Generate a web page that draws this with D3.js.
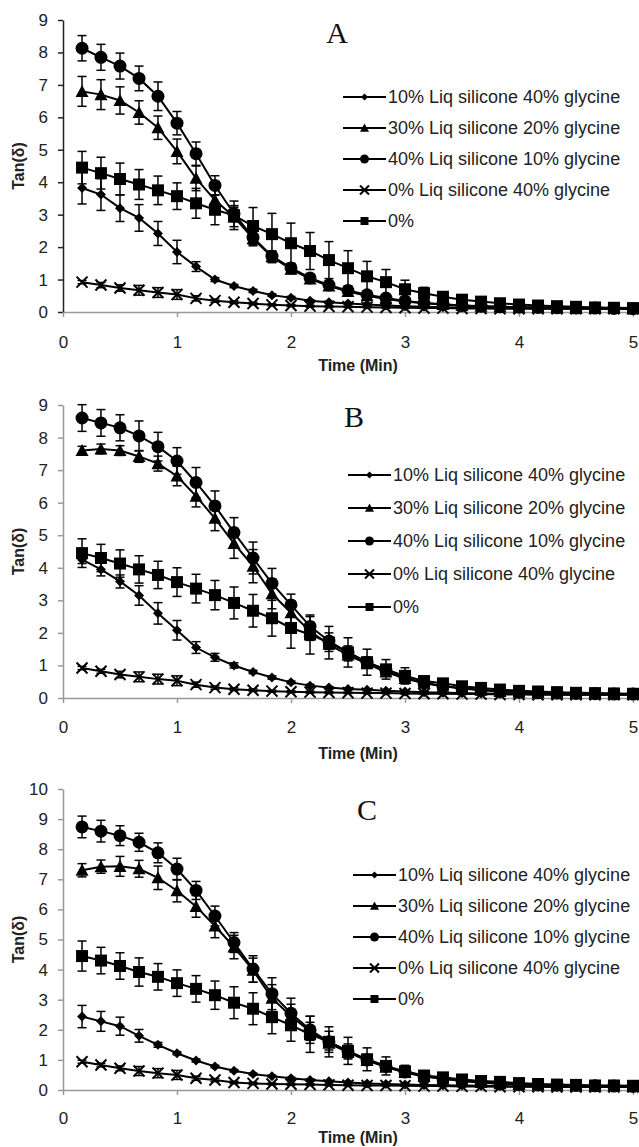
<!DOCTYPE html>
<html><head><meta charset="utf-8">
<script src="https://cdn.jsdelivr.net/npm/d3@7"></script>
<style>body{margin:0;background:#fff}svg{display:block}</style>
</head><body>
<script>
const times = [0.167,0.333,0.5,0.667,0.833,1,1.167,1.333,1.5,1.667,1.833,2,2.167,2.333,2.5,2.667,2.833,3,3.167,3.333,3.5,3.667,3.833,4,4.167,4.333,4.5,4.667,4.833,5];
const seriesNames = ["10% Liq silicone 40% glycine","30% Liq silicone 20% glycine","40% Liq silicone 10% glycine","0% Liq silicone 40% glycine","0%"];
const seriesShapes = ["diamond","triangle","circle","x","square"];
const panelLetters = ["A","B","C"];
const panelYMax = [9,9,10];
const xTicks = [0,1,2,3,4,5];

// Panel A
const A_dia  = [3.82,3.62,3.2,2.9,2.42,1.85,1.4,1.0,0.8,0.65,0.52,0.44,0.35,0.3,0.26,0.23,0.2,0.18,0.16,0.15,0.14,0.13,0.12,0.12,0.11,0.11,0.1,0.1,0.1,0.1];
const A_tri  = [6.8,6.7,6.52,6.15,5.68,4.95,4.12,3.45,2.93,2.26,1.7,1.32,1.02,0.8,0.63,0.5,0.4,0.32,0.27,0.23,0.2,0.18,0.16,0.15,0.14,0.13,0.12,0.11,0.11,0.1];
const A_circ = [8.13,7.85,7.58,7.2,6.65,5.82,4.88,3.9,3.03,2.3,1.72,1.36,1.05,0.83,0.66,0.53,0.43,0.34,0.28,0.24,0.2,0.18,0.16,0.15,0.14,0.13,0.12,0.12,0.11,0.1];
const A_x    = [0.92,0.83,0.74,0.67,0.6,0.54,0.42,0.35,0.3,0.26,0.22,0.2,0.18,0.17,0.16,0.15,0.14,0.13,0.12,0.12,0.11,0.11,0.1,0.1,0.1,0.1,0.1,0.1,0.1,0.1];
const A_sq   = [4.45,4.28,4.1,3.93,3.75,3.57,3.35,3.15,2.98,2.65,2.4,2.12,1.88,1.6,1.35,1.1,0.92,0.7,0.58,0.47,0.38,0.32,0.27,0.23,0.2,0.18,0.16,0.14,0.13,0.12];
const A_dia_err  = [0.49,0.49,0.41,0.41,0.37,0.36,0.15,0.06,0.05,0.05,0.04,0.04,0.03,0.03,0.03,0.03,0.02,0.02,0.02,0.02,0.02,0.02,0.02,0.02,0.02,0.02,0.02,0.02,0.02,0.02];
const A_tri_err  = [0.46,0.46,0.42,0.36,0.36,0.38,0.38,0.35,0.3,0.22,0.18,0.14,0.1,0.08,0.07,0.06,0.05,0.04,0.04,0.03,0.03,0.03,0.03,0.02,0.02,0.02,0.02,0.02,0.02,0.02];
const A_circ_err = [0.39,0.4,0.4,0.38,0.44,0.36,0.36,0.3,0.25,0.2,0.15,0.12,0.1,0.08,0.07,0.06,0.05,0.04,0.04,0.03,0.03,0.03,0.03,0.02,0.02,0.02,0.02,0.02,0.02,0.02];
const A_x_err    = [0.05,0.08,0.1,0.15,0.15,0.15,0.08,0.05,0.04,0.04,0.03,0.03,0.03,0.03,0.02,0.02,0.02,0.02,0.02,0.02,0.02,0.02,0.02,0.02,0.02,0.02,0.02,0.02,0.02,0.02];
const A_sq_err   = [0.5,0.49,0.49,0.46,0.44,0.41,0.46,0.46,0.44,0.57,0.64,0.62,0.57,0.57,0.54,0.46,0.39,0.28,0.18,0.1,0.06,0.05,0.05,0.04,0.04,0.03,0.03,0.03,0.03,0.03];

// Panel B
const B_dia  = [4.25,3.95,3.58,3.15,2.6,2.08,1.55,1.25,1.0,0.8,0.63,0.48,0.38,0.32,0.28,0.25,0.22,0.2,0.18,0.16,0.15,0.14,0.13,0.12,0.12,0.11,0.1,0.1,0.1,0.1];
const B_tri  = [7.6,7.65,7.6,7.42,7.2,6.82,6.2,5.52,4.75,4.05,3.2,2.62,2.05,1.65,1.32,1.05,0.8,0.6,0.45,0.36,0.29,0.24,0.2,0.18,0.16,0.15,0.14,0.13,0.12,0.12];
const B_circ = [8.6,8.45,8.3,8.05,7.72,7.28,6.62,5.9,5.08,4.3,3.52,2.86,2.2,1.75,1.4,1.1,0.85,0.62,0.47,0.37,0.3,0.25,0.21,0.18,0.16,0.15,0.14,0.13,0.12,0.12];
const B_x    = [0.92,0.82,0.72,0.65,0.58,0.53,0.41,0.32,0.27,0.24,0.21,0.19,0.18,0.17,0.16,0.15,0.15,0.14,0.13,0.13,0.12,0.12,0.11,0.11,0.1,0.1,0.1,0.1,0.1,0.1];
const B_sq   = [4.45,4.3,4.13,3.95,3.78,3.56,3.36,3.16,2.92,2.68,2.45,2.15,1.95,1.7,1.4,1.1,0.88,0.68,0.52,0.45,0.36,0.31,0.26,0.22,0.2,0.18,0.16,0.15,0.14,0.13];
const B_dia_err  = [0.12,0.2,0.2,0.3,0.33,0.3,0.18,0.12,0.08,0.05,0.05,0.04,0.04,0.03,0.03,0.03,0.02,0.02,0.02,0.02,0.02,0.02,0.02,0.02,0.02,0.02,0.02,0.02,0.02,0.02];
const B_tri_err  = [0.13,0.15,0.15,0.18,0.23,0.3,0.33,0.38,0.46,0.51,0.46,0.35,0.28,0.22,0.18,0.14,0.1,0.08,0.06,0.05,0.04,0.04,0.03,0.03,0.03,0.02,0.02,0.02,0.02,0.02];
const B_circ_err = [0.41,0.41,0.4,0.46,0.44,0.41,0.46,0.46,0.46,0.49,0.46,0.33,0.3,0.25,0.2,0.15,0.1,0.08,0.06,0.05,0.04,0.04,0.03,0.03,0.03,0.02,0.02,0.02,0.02,0.02];
const B_x_err    = [0.05,0.06,0.1,0.15,0.15,0.15,0.08,0.05,0.04,0.04,0.03,0.03,0.03,0.03,0.02,0.02,0.02,0.02,0.02,0.02,0.02,0.02,0.02,0.02,0.02,0.02,0.02,0.02,0.02,0.02];
const B_sq_err   = [0.44,0.42,0.42,0.42,0.42,0.44,0.44,0.45,0.49,0.5,0.55,0.62,0.6,0.5,0.45,0.4,0.3,0.25,0.15,0.1,0.06,0.05,0.05,0.04,0.04,0.03,0.03,0.03,0.03,0.03];

// Panel C
const C_dia  = [2.44,2.28,2.12,1.8,1.5,1.22,0.98,0.78,0.64,0.53,0.46,0.39,0.33,0.29,0.25,0.22,0.2,0.18,0.17,0.16,0.15,0.14,0.13,0.12,0.12,0.11,0.11,0.1,0.1,0.1];
const C_tri  = [7.3,7.42,7.43,7.35,7.05,6.62,6.1,5.45,4.75,3.98,3.05,2.45,1.95,1.55,1.25,0.98,0.76,0.58,0.45,0.37,0.3,0.25,0.21,0.18,0.16,0.15,0.14,0.13,0.12,0.12];
const C_circ = [8.74,8.6,8.45,8.23,7.88,7.34,6.63,5.78,4.9,4.02,3.2,2.55,2.0,1.6,1.28,1.0,0.78,0.6,0.46,0.38,0.31,0.26,0.22,0.19,0.17,0.16,0.15,0.14,0.13,0.12];
const C_x    = [0.94,0.83,0.72,0.63,0.56,0.5,0.39,0.33,0.25,0.22,0.2,0.19,0.18,0.17,0.16,0.15,0.15,0.14,0.13,0.13,0.12,0.12,0.11,0.11,0.11,0.1,0.1,0.1,0.1,0.1];
const C_sq   = [4.45,4.3,4.12,3.92,3.76,3.55,3.36,3.15,2.9,2.7,2.42,2.15,1.85,1.6,1.3,1.02,0.8,0.62,0.48,0.42,0.35,0.3,0.27,0.23,0.2,0.18,0.17,0.15,0.15,0.14];
const C_dia_err  = [0.37,0.33,0.3,0.21,0.08,0.05,0.05,0.04,0.04,0.03,0.03,0.03,0.03,0.02,0.02,0.02,0.02,0.02,0.02,0.02,0.02,0.02,0.02,0.02,0.02,0.02,0.02,0.02,0.02,0.02];
const C_tri_err  = [0.22,0.22,0.33,0.28,0.39,0.37,0.36,0.39,0.39,0.4,0.45,0.4,0.3,0.22,0.18,0.14,0.1,0.08,0.06,0.05,0.04,0.04,0.03,0.03,0.03,0.02,0.02,0.02,0.02,0.02];
const C_circ_err = [0.36,0.36,0.33,0.3,0.33,0.36,0.3,0.33,0.33,0.44,0.53,0.5,0.45,0.35,0.25,0.18,0.12,0.08,0.06,0.05,0.04,0.04,0.03,0.03,0.03,0.02,0.02,0.02,0.02,0.02];
const C_x_err    = [0.05,0.06,0.08,0.15,0.15,0.15,0.07,0.05,0.04,0.04,0.03,0.03,0.03,0.03,0.02,0.02,0.02,0.02,0.02,0.02,0.02,0.02,0.02,0.02,0.02,0.02,0.02,0.02,0.02,0.02];
const C_sq_err   = [0.5,0.44,0.44,0.47,0.44,0.44,0.44,0.47,0.53,0.53,0.55,0.53,0.6,0.5,0.45,0.38,0.3,0.2,0.15,0.1,0.06,0.05,0.05,0.04,0.04,0.03,0.03,0.03,0.03,0.03];

const panelValues = [
  [A_dia,A_tri,A_circ,A_x,A_sq],
  [B_dia,B_tri,B_circ,B_x,B_sq],
  [C_dia,C_tri,C_circ,C_x,C_sq]];
const panelErrors = [
  [A_dia_err,A_tri_err,A_circ_err,A_x_err,A_sq_err],
  [B_dia_err,B_tri_err,B_circ_err,B_x_err,B_sq_err],
  [C_dia_err,C_tri_err,C_circ_err,C_x_err,C_sq_err]];

// layout (pixels)
const W = 639, H = 1147;
const layout = [
  {top:20,  bottom:312,  axisColor:"#222", titleX:337, titleY:43,  legX:343, legY:97,  legStep:31, tickPad:19, timeY:365},
  {top:405, bottom:698,  axisColor:"#999", titleX:354, titleY:427, legX:348, legY:475, legStep:33, tickPad:18, timeY:753},
  {top:789, bottom:1090, axisColor:"#999", titleX:367, titleY:820, legX:353, legY:875, legStep:31, tickPad:17, timeY:1137}
];
const xLeft = 63, xRight = 633;

const svg = d3.select("body").append("svg").attr("width",W).attr("height",H)
  .style("font-family","'Liberation Sans', Arial, sans-serif");

function markerPath(shape, s){
  const h = s/2;
  switch(shape){
    case "diamond": return `M0,${-h}L${h},0L0,${h}L${-h},0Z`;
    case "triangle": return `M0,${-h}L${h},${h*0.85}L${-h},${h*0.85}Z`;
    case "square": return `M${-h},${-h}H${h}V${h}H${-h}Z`;
    case "circle": return d3.symbol(d3.symbolCircle, Math.PI*h*h)();
    case "x": return `M${-h},${-h}L${h},${h}M${-h},${h}L${h},${-h}`;
  }
}
const plotSize = {diamond:10, triangle:13, circle:13, x:11, square:12};
const legSize  = {diamond:7, triangle:9, circle:9, x:9, square:8};

function drawMarker(g, shape, s){
  const p = g.append("path").attr("d", markerPath(shape, s));
  if(shape==="x") p.attr("fill","none").attr("stroke","#000").attr("stroke-width",2);
  else p.attr("fill","#000").attr("stroke","none");
}

panelLetters.forEach((letter, pi) => {
  const L = layout[pi];
  const x = d3.scaleLinear().domain([0,5]).range([xLeft,xRight]);
  const y = d3.scaleLinear().domain([0,panelYMax[pi]]).range([L.bottom,L.top]);
  const g = svg.append("g");

  // Y axis
  const ya = g.append("g").attr("transform",`translate(${xLeft},0)`)
    .call(d3.axisLeft(y).ticks(panelYMax[pi]).tickFormat(d3.format("d")).tickSize(5).tickPadding(10).tickSizeOuter(0));
  ya.select(".domain").attr("stroke",L.axisColor).attr("stroke-width",1.5);
  ya.selectAll(".tick line").attr("stroke",L.axisColor).attr("stroke-width",1.5);
  ya.selectAll("text").attr("font-size",17).attr("fill","#222").style("font-family","'Liberation Sans', Arial, sans-serif");

  // X axis
  const xa = g.append("g").attr("transform",`translate(0,${L.bottom})`)
    .call(d3.axisBottom(x).tickValues(xTicks).tickFormat(d3.format("d")).tickSize(5).tickPadding(L.tickPad).tickSizeOuter(0));
  xa.select(".domain").attr("stroke","#999").attr("stroke-width",1.5);
  xa.selectAll(".tick line").attr("stroke","#999").attr("stroke-width",1.5);
  xa.selectAll("text").attr("font-size",17).attr("fill","#222").style("font-family","'Liberation Sans', Arial, sans-serif");

  // axis titles
  g.append("text").attr("x",358).attr("y",L.timeY).attr("dy","0.35em")
    .attr("text-anchor","middle").attr("font-size",16).attr("font-weight","bold").attr("fill","#222")
    .text("Time (Min)");
  g.append("text").attr("transform",`translate(18,${(L.top+L.bottom)/2}) rotate(-90)`)
    .attr("dy","0.35em").attr("text-anchor","middle").attr("font-size",16).attr("font-weight","bold").attr("fill","#222")
    .text("Tan(\u03b4)");

  // panel letter
  g.append("text").attr("x",L.titleX).attr("y",L.titleY).attr("text-anchor","middle")
    .attr("font-family","'Liberation Serif','Times New Roman',serif").attr("font-size",30).attr("fill","#111")
    .text(letter);

  // series
  seriesNames.forEach((name, si) => {
    const vals = panelValues[pi][si], errs = panelErrors[pi][si];
    const pts = times.map((t,i)=>({t, v:vals[i], e:errs[i]}));
    const sg = g.append("g");
    sg.append("path").datum(pts)
      .attr("d", d3.line().x(d=>x(d.t)).y(d=>y(d.v)))
      .attr("fill","none").attr("stroke","#000").attr("stroke-width",2);
    const eb = sg.selectAll(".eb").data(pts).join("g").attr("class","eb");
    eb.append("line").attr("x1",d=>x(d.t)).attr("x2",d=>x(d.t))
      .attr("y1",d=>y(d.v-d.e)).attr("y2",d=>y(d.v+d.e)).attr("stroke","#000").attr("stroke-width",1.5);
    eb.append("line").attr("x1",d=>x(d.t)-4.5).attr("x2",d=>x(d.t)+4.5)
      .attr("y1",d=>y(d.v+d.e)).attr("y2",d=>y(d.v+d.e)).attr("stroke","#000").attr("stroke-width",1.5);
    eb.append("line").attr("x1",d=>x(d.t)-4.5).attr("x2",d=>x(d.t)+4.5)
      .attr("y1",d=>y(d.v-d.e)).attr("y2",d=>y(d.v-d.e)).attr("stroke","#000").attr("stroke-width",1.5);
    pts.forEach(d => {
      const mg = sg.append("g").attr("transform",`translate(${x(d.t)},${y(d.v)})`);
      drawMarker(mg, seriesShapes[si], plotSize[seriesShapes[si]]);
    });

    // legend
    const ly = L.legY + si*L.legStep;
    const lg = g.append("g");
    lg.append("line").attr("x1",L.legX).attr("x2",L.legX+43).attr("y1",ly).attr("y2",ly)
      .attr("stroke","#000").attr("stroke-width",2);
    const lm = lg.append("g").attr("transform",`translate(${L.legX+21.5},${ly})`);
    drawMarker(lm, seriesShapes[si], legSize[seriesShapes[si]]);
    lg.append("text").attr("x",L.legX+45).attr("y",ly).attr("dy","0.35em")
      .attr("font-size",18).attr("fill","#222").text(name);
  });
});
</script>
</body></html>
